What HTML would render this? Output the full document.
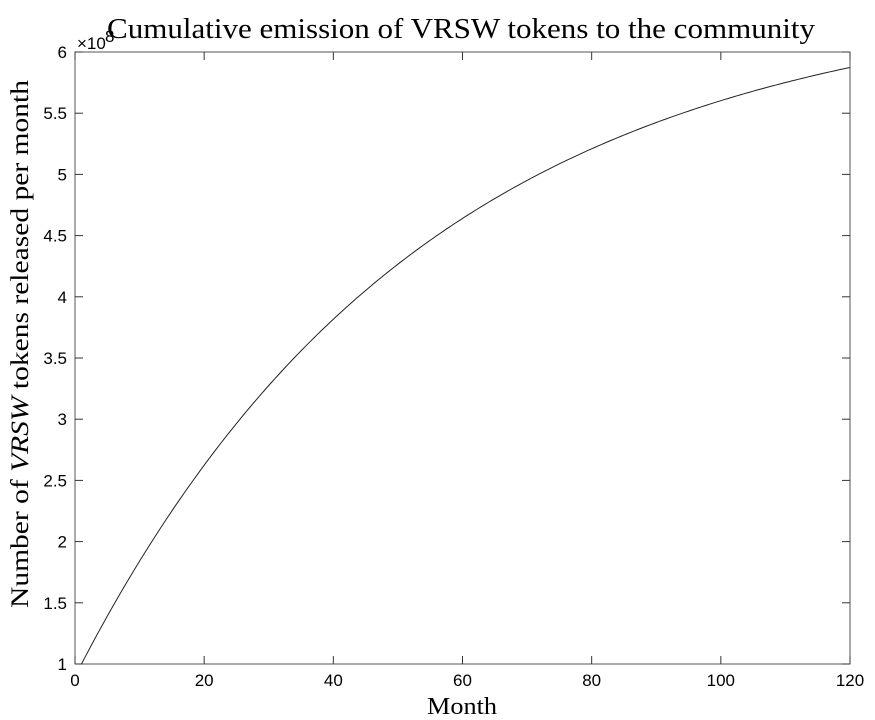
<!DOCTYPE html>
<html><head><meta charset="utf-8"><style>
body{margin:0;background:#fff;}
svg{display:block;}
.t{font-family:"Liberation Sans",sans-serif;font-size:17px;fill:#000;}
.s{font-family:"Liberation Serif",serif;fill:#000;}
</style></head><body>
<svg id="c" width="875" height="720" viewBox="0 0 875 720">
<rect width="875" height="720" fill="#fff"/>
<rect x="75" y="52" width="775" height="612" fill="none" stroke="#555" stroke-width="1"/>
<g id="ticks" stroke="#333" stroke-width="1"></g>
<g id="labels"></g>
<path id="curve" fill="none" stroke="#222" stroke-width="1"/>
<text class="s" x="107" y="38" font-size="28" textLength="708" lengthAdjust="spacingAndGlyphs">Cumulative emission of VRSW tokens to the community</text>
<text class="s" x="427" y="714" font-size="24" textLength="70" lengthAdjust="spacingAndGlyphs">Month</text>
<text class="s" font-size="25" textLength="528" lengthAdjust="spacingAndGlyphs" transform="translate(28,608) rotate(-90)">Number of <tspan font-style="italic">VRSW</tspan> tokens released per month</text>
<text class="t" x="77" y="49" font-size="16">×10</text><text class="t" x="105" y="42" font-size="12">8</text>
</svg>
<script>
var X0=75,X1=850,Y0=664,Y1=52;
function px(m){return X0+(m)/120*(X1-X0);}
function py(v){return Y0-(v-1)/5*(Y0-Y1);}
var t=document.getElementById('ticks'),l=document.getElementById('labels'),h='';
for(var m=0;m<=120;m+=20){var x=px(m);h+='<line x1="'+x+'" y1="'+Y0+'" x2="'+x+'" y2="'+(Y0-8)+'"/><line x1="'+x+'" y1="'+Y1+'" x2="'+x+'" y2="'+(Y1+8)+'"/>';
l.innerHTML+='<text class="t" x="'+x+'" y="'+(Y0+22)+'" text-anchor="middle">'+m+'</text>';}
for(var v=1;v<=6.001;v+=0.5){var y=py(v);h+='<line x1="'+X0+'" y1="'+y+'" x2="'+(X0+8)+'" y2="'+y+'"/><line x1="'+X1+'" y1="'+y+'" x2="'+(X1-8)+'" y2="'+y+'"/>';
l.innerHTML+='<text class="t" x="'+(X0-8)+'" y="'+(y+6)+'" text-anchor="end">'+v+'</text>';}
t.innerHTML=h;
var d='';for(var m=1;m<=120;m+=0.5){var v=1+5.48*(1-Math.exp(-0.0185*(m-1)));d+=(m==1?'M':'L')+px(m).toFixed(2)+' '+py(v).toFixed(2);}
document.getElementById('curve').setAttribute('d',d);
</script>
</body></html>
